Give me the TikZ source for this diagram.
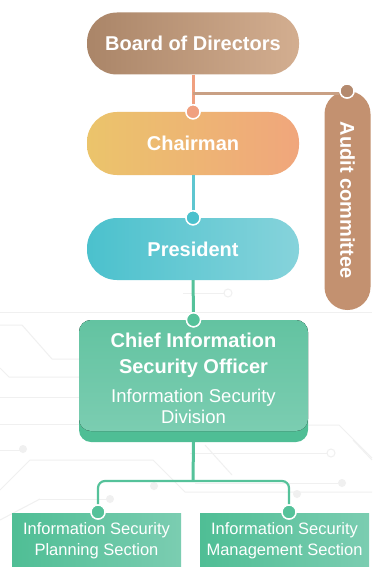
\documentclass[tikz,border=0pt]{standalone}
\usepackage{fontspec}
\setmainfont{Liberation Sans}
\usetikzlibrary{calc}
\definecolor{bdL}{HTML}{AA8568}
\definecolor{bdR}{HTML}{D3AE90}
\definecolor{chL}{HTML}{EBC46B}
\definecolor{chR}{HTML}{F0A67C}
\definecolor{prL}{HTML}{4BC1CD}
\definecolor{prR}{HTML}{86D3DB}
\definecolor{gnT}{HTML}{63C3A1}
\definecolor{gnB}{HTML}{7BCDB1}
\definecolor{gnD}{HTML}{4FBE95}
\definecolor{auC}{HTML}{C39170}
\definecolor{auD}{HTML}{B48A6E}
\definecolor{lnO}{HTML}{F0A07F}
\definecolor{lnA}{HTML}{C9A084}
\definecolor{lnT}{HTML}{5EC6D0}
\definecolor{lnG}{HTML}{55C29A}
\definecolor{bgl}{HTML}{F0F0F0}
\tikzset{
  pill/.style={rectangle, rounded corners=30pt, minimum width=212pt, minimum height=62pt,
    text=white, font=\fontsize{20}{24}\selectfont\bfseries, inner sep=0pt},
  dotc/.style={circle, draw=white, line width=1.4pt, minimum size=14pt, inner sep=0pt},
  conn/.style={line width=3pt},
  secbox/.style={rectangle, minimum width=169pt, minimum height=54pt, inner sep=0pt,
    left color=gnD, right color=gnB, text=white, align=center,
    font=\fontsize{16.5}{21}\selectfont},
  bgline/.style={draw=bgl, line width=1pt}
}
\begin{document}
\begin{tikzpicture}[x=1pt,y=-1pt]
\useasboundingbox (0,0) rectangle (372,567);
\fill[white] (0,0) rectangle (372,567);
% faint circuit background
\draw[bgline] (0,312) -- (372,312);
\draw[bgline] (0,325) -- (22,325) -- (52,359) -- (80,359);
\draw[bgline] (0,368) -- (9,377) -- (80,377);
\draw[bgline] (0,397) -- (80,397);
\draw[bgline] (0,424) -- (80,424);
\draw[bgline] (0,450) -- (20,450);
\fill[bgl] (23,449) circle (4);
\draw[bgline] (0,490) -- (30,460) -- (153,460) -- (185,492) -- (372,492);
\draw[bgline] (40,499) -- (107,499);
\fill[bgl] (110,499) circle (4);
\draw[bgline] (0,520) -- (40,499);
\draw[bgline] (308,425) -- (339,425) -- (372,458);
\draw[bgline] (190,453) -- (327,453);
\draw[bgline] (331,453) circle (4);
\draw[bgline] (195,483) -- (338,483);
\fill[bgl] (342,483) circle (4);
\fill[bgl] (297,494) circle (4);
\draw[bgline] (205,445) -- (232,475);
\draw[bgline] (353,440) -- (372,460);
\draw[bgline] (183,293) -- (224,293);
\draw[bgline] (228,293) circle (4);
\fill[bgl] (154,486) circle (4);
% main boxes
\node[pill, left color=bdL, right color=bdR] (board) at (193,43.5) {Board of Directors};
\node[pill, left color=chL, right color=chR, minimum height=63pt] (chair) at (193,143.5) {Chairman};
\node[pill, left color=prL, right color=prR] (pres) at (193,249) {President};
\node[rectangle, rounded corners=23pt, minimum width=46pt, minimum height=219pt, fill=auC, inner sep=0pt] (audit) at (347.5,200.5) {};
\node[text=white, font=\fontsize{20}{24}\selectfont\bfseries, rotate=-90] (audittxt) at (347.5,200) {Audit committee};
% CISO box
\node[rectangle, rounded corners=12pt, minimum width=229pt, minimum height=122pt, fill=gnD, inner sep=0pt] (ciso) at (193.5,381) {};
\fill[top color=gnT, bottom color=gnB, rounded corners=12pt] (79,320) rectangle (308,431);
\node[text=white, align=center, font=\fontsize{20}{26}\selectfont\bfseries] (cisot) at (193.5,355) {Chief Information\\Security Officer};
\node[text=white, align=center, font=\fontsize{18.5}{21}\selectfont] (cisod) at (193.5,406) {Information Security\\Division};
% sections
\node[secbox] (plan) at (96.5,540.5) {Information Security\\Planning Section};
\node[secbox] (mgmt) at (284.5,540.5) {Information Security\\Management Section};
% connector points
\coordinate (ja) at (193,93.5);
\coordinate (jt) at (193,481);
\node[dotc, fill=auD] (da) at (347,91) {};
\node[dotc, fill=lnO] (dc) at (chair.north) {};
\node[dotc, fill=prL] (dp) at (pres.north) {};
\node[dotc, fill=lnG] (dg) at (ciso.north) {};
\node[dotc, fill=lnG] (dl) at (98,512) {};
\node[dotc, fill=lnG] (dr) at (289,512) {};
% connectors
\draw[conn, lnO] (board.south) -- (dc.north);
\draw[line width=2.5pt, lnA] (ja) -- (ja -| da.west);
\draw[conn, lnT] (chair.south) -- (dp.north);
\draw[conn, lnG] (pres.south) -- (dg.north);
\draw[conn, lnG] (ciso.south) -- (jt);
\draw[line width=2.2pt, lnG, rounded corners=7pt] (dl.north) |- (jt) -| (dr.north);
% dots on top
\node[dotc, fill=auD] at (da.center) {};
\node[dotc, fill=lnO] at (dc.center) {};
\node[dotc, fill=prL] at (dp.center) {};
\node[dotc, fill=lnG] at (dg.center) {};
\node[dotc, fill=lnG] at (dl.center) {};
\node[dotc, fill=lnG] at (dr.center) {};
\end{tikzpicture}
\end{document}
